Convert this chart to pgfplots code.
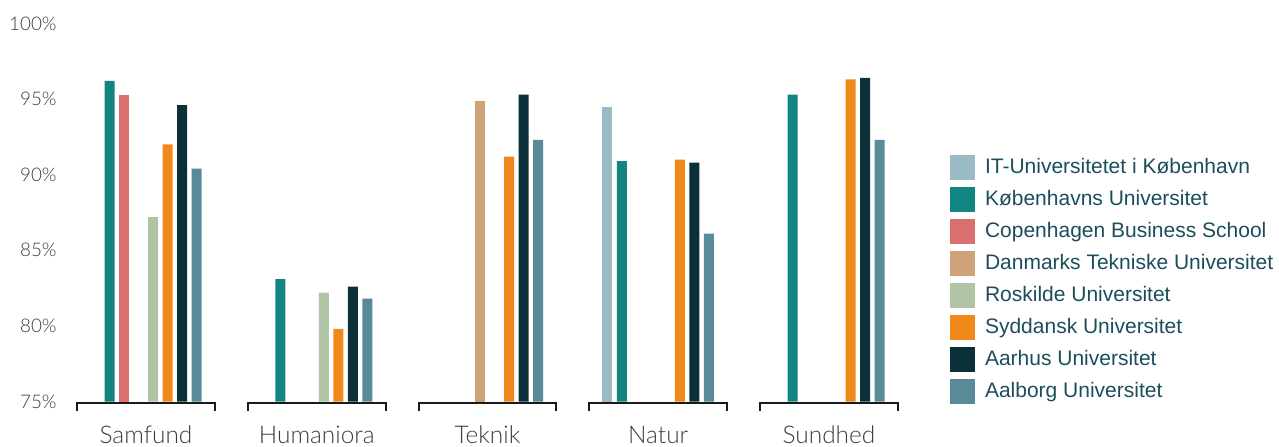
\documentclass[border=0pt]{standalone}
\usepackage{pgfplots}
\pgfplotsset{compat=1.18}
\usepackage{fontspec}
\setmainfont{Lato}
\newfontfamily\lightfont{Lato}[UprightFont=* Light]
\newfontfamily\legendfont{Liberation Sans}
\definecolor{cITU}{HTML}{9BBBC4}
\definecolor{cKU}{HTML}{128481}
\definecolor{cCBS}{HTML}{DA706D}
\definecolor{cDTU}{HTML}{CFA37A}
\definecolor{cRUC}{HTML}{B1C5A5}
\definecolor{cSDU}{HTML}{F0881A}
\definecolor{cAU}{HTML}{0A3039}
\definecolor{cAAU}{HTML}{588B97}
\definecolor{labelgray}{HTML}{3C3C3C}
\definecolor{legendtext}{HTML}{1B4E5B}
\definecolor{bracket}{HTML}{1A1A1A}
\begin{document}
\begin{tikzpicture}
\begin{axis}[
  at={(0,0)}, anchor=south west,
  x=85.375pt, y=7.56pt,
  xmin=-0.445, xmax=4.45, ymin=75, ymax=100,
  ybar=2.25pt, bar width=5pt,
  axis line style={draw=none},
  major tick length=0pt,
  tick style={draw=none},
  clip=false,
  xtick={0,1,2,3,4},
  xticklabels={Samfund,Humaniora,Teknik,Natur,Sundhed},
  xticklabel style={anchor=base, inner sep=0pt, text depth=0pt, yshift=-21pt, font=\lightfont\fontsize{12.2pt}{14pt}\selectfont, text=labelgray},
  ytick={75,80,85,90,95,100},
  yticklabels={75\%,80\%,85\%,90\%,95\%,100\%},
  yticklabel style={anchor=east, inner sep=0pt, xshift=-6.5pt, font=\lightfont\fontsize{9.4pt}{11pt}\selectfont, text=labelgray},
  legend style={at={(1.0529,0.6521)}, anchor=north west, draw=none, fill=none, inner sep=0pt, outer sep=0pt, row sep=3.5pt, column sep=5pt, font=\legendfont\fontsize{10.5pt}{12pt}\selectfont, text=legendtext, nodes={inner sep=0pt}},
  legend cell align=left,
  legend image code/.code={\fill[#1] (0pt,-6.25pt) rectangle (12.5pt,6.25pt);},
]
\addplot[fill=cITU, draw=none] coordinates {(3,94.5)};
\addplot[fill=cKU, draw=none] coordinates {(0,96.2) (1,83.1) (3,90.9) (4,95.3)};
\addplot[fill=cCBS, draw=none] coordinates {(0,95.3)};
\addplot[fill=cDTU, draw=none] coordinates {(2,94.9)};
\addplot[fill=cRUC, draw=none] coordinates {(0,87.2) (1,82.2)};
\addplot[fill=cSDU, draw=none] coordinates {(0,92.0) (1,79.8) (2,91.2) (3,91.0) (4,96.3)};
\addplot[fill=cAU, draw=none] coordinates {(0,94.6) (1,82.6) (2,95.3) (3,90.8) (4,96.4)};
\addplot[fill=cAAU, draw=none] coordinates {(0,90.4) (1,81.8) (2,92.3) (3,86.1) (4,92.3)};
\legend{IT-Universitetet i København, Københavns Universitet, Copenhagen Business School, Danmarks Tekniske Universitet, Roskilde Universitet, Syddansk Universitet, Aarhus Universitet, Aalborg Universitet}
\draw[line width=1pt, color=bracket] ([yshift=-4.75pt]axis cs:-0.404,75) |- ([yshift=-0.75pt]axis cs:0.404,75) -- ([yshift=-4.75pt]axis cs:0.404,75);
\draw[line width=1pt, color=bracket] ([yshift=-4.75pt]axis cs:0.596,75) |- ([yshift=-0.75pt]axis cs:1.404,75) -- ([yshift=-4.75pt]axis cs:1.404,75);
\draw[line width=1pt, color=bracket] ([yshift=-4.75pt]axis cs:1.596,75) |- ([yshift=-0.75pt]axis cs:2.404,75) -- ([yshift=-4.75pt]axis cs:2.404,75);
\draw[line width=1pt, color=bracket] ([yshift=-4.75pt]axis cs:2.596,75) |- ([yshift=-0.75pt]axis cs:3.404,75) -- ([yshift=-4.75pt]axis cs:3.404,75);
\draw[line width=1pt, color=bracket] ([yshift=-4.75pt]axis cs:3.596,75) |- ([yshift=-0.75pt]axis cs:4.404,75) -- ([yshift=-4.75pt]axis cs:4.404,75);
\end{axis}
\pgfresetboundingbox
\path (-35pt,-22.25pt) rectangle (604.5pt,200.75pt);
\end{tikzpicture}
\end{document}
